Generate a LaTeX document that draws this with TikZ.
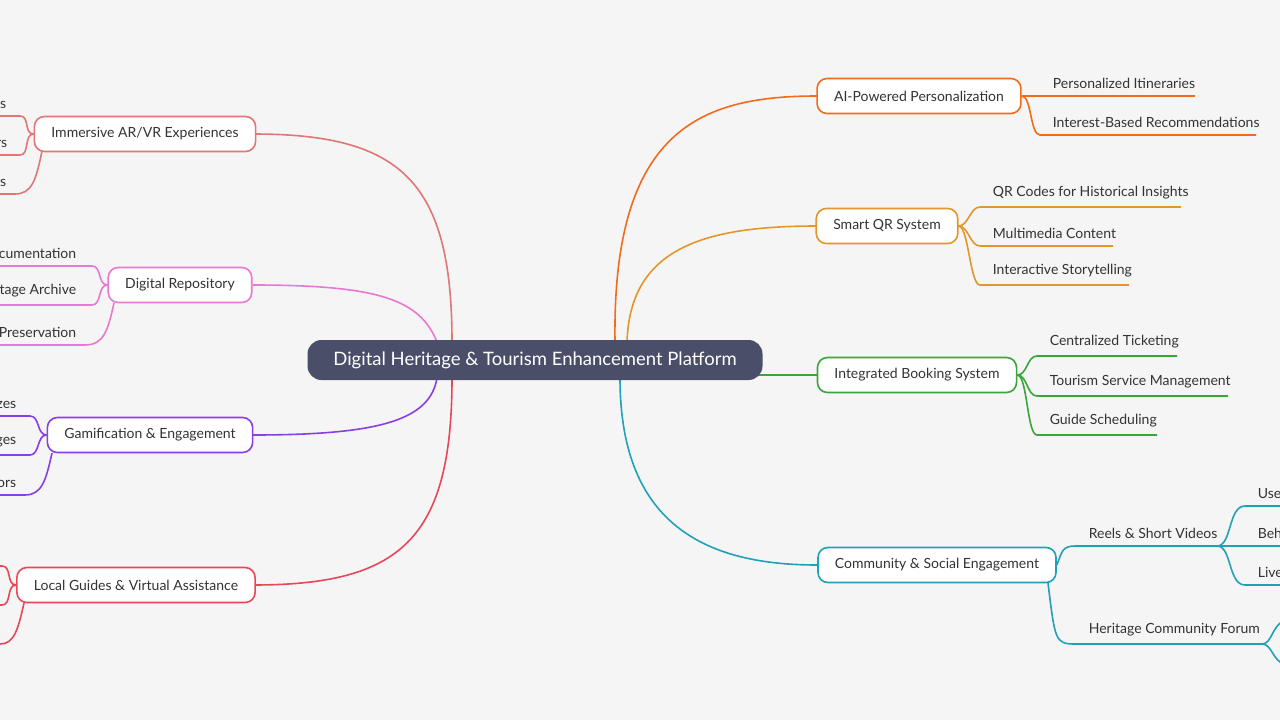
\documentclass[tikz,border=0pt]{standalone}
\usepackage{fontspec}
\setmainfont{Lato}
\begin{document}
\begin{tikzpicture}[x=1pt,y=-1pt,line width=1.6pt,
  topic/.style={draw,fill=white,rounded corners=10pt,minimum height=35pt,inner xsep=17pt,font=\fontsize{14}{16}\selectfont,text=black!80},
  lbl/.style={font=\fontsize{14}{16}\selectfont,text=black!80,inner sep=0pt}]
\useasboundingbox (0,0) rectangle (1280,720);
\fill[black!4] (0,0) rectangle (1280,720);
\clip (0,0) rectangle (1280,720);
\definecolor{cOr}{HTML}{F26B1D}\definecolor{cQr}{HTML}{E3972B}
\definecolor{cGr}{HTML}{3AA53A}\definecolor{cTe}{HTML}{22A0B8}
\definecolor{cIm}{HTML}{E07676}\definecolor{cPk}{HTML}{E878D2}
\definecolor{cPu}{HTML}{8A3EE8}\definecolor{cRd}{HTML}{E8475A}

% main connectors
\draw[cOr] (615,342) .. controls (612,130) and (700,96) .. (817,96);
\draw[cQr] (627,342) .. controls (630,250) and (700,226) .. (817,226);
\draw[cGr] (740,375) -- (817,375);
\draw[cTe] (620,378) .. controls (620,520) and (700,565) .. (817,565);
\draw[cIm] (253,134) .. controls (400,134) and (452,180) .. (452,342);
\draw[cPk] (253,285) .. controls (380,285) and (420,300) .. (437,342);
\draw[cPu] (253,435) .. controls (380,435) and (430,420) .. (437,378);
\draw[cRd] (253,585) .. controls (400,585) and (452,540) .. (452,378);

\node[fill={rgb,255:red,74;green,78;blue,105},rounded corners=14pt,minimum width=455pt,minimum height=40pt,text=white,font=\fontsize{18.5}{20}\selectfont] (c) at (535,360) {Digital Heritage \& Tourism Enhancement Platform};

% right topics
\node[topic,draw=cOr] (ai) at (919,96) {AI-Powered Personalization};
\node[topic,draw=cQr] (qr) at (887,226) {Smart QR System};
\node[topic,draw=cGr] (bk) at (917,375) {Integrated Booking System};
\node[topic,draw=cTe] (cm) at (937,565) {Community \& Social Engagement};
% left topics
\node[topic,draw=cIm] (im) at (145,134) {Immersive AR/VR Experiences};
\node[topic,draw=cPk] (dr) at (180,285) {Digital Repository};
\node[topic,draw=cPu] (gm) at (150,435) {Gamification \& Engagement};
\node[topic,draw=cRd] (lg) at (136,585) {Local Guides \& Virtual Assistance};

% right children
\def\rc#1#2#3#4#5#6{\draw[#1] (#2) .. controls +(10,0) and +(-10,0) .. (#3,#4) -- (#5,#4);
  \node[lbl,anchor=south west] at (#3+12,#4-7) {#6};}
\rc{cOr}{ai.east}{1040}{96}{1195}{Personalized Itineraries}
\rc{cOr}{ai.east}{1040}{135}{1256}{Interest-Based Recommendations}
\rc{cQr}{qr.east}{980}{207}{1181}{QR Codes for Historical Insights}
\rc{cQr}{qr.east}{980}{246}{1113}{Multimedia Content}
\rc{cQr}{qr.east}{980}{285}{1129}{Interactive Storytelling}
\rc{cGr}{bk.east}{1037}{356}{1177}{Centralized Ticketing}
\rc{cGr}{bk.east}{1037}{396}{1228}{Tourism Service Management}
\rc{cGr}{bk.east}{1037}{435}{1157}{Guide Scheduling}
\draw[cTe] (cm.east) .. controls (1062,552) and (1062,546) .. (1075,546) -- (1217,546);
\node[lbl,anchor=south west] at (1088,539) {Reels \& Short Videos};
\draw[cTe] (1048,583) .. controls (1055,640) and (1055,644) .. (1075,644) -- (1262,644);
\node[lbl,anchor=south west] at (1088,637) {Heritage Community Forum};
\draw[cTe] (1217,546) .. controls (1232,546) and (1228,506) .. (1245,506) -- (1280,506);
\draw[cTe] (1217,546) -- (1280,546);
\draw[cTe] (1217,546) .. controls (1232,546) and (1228,585) .. (1245,585) -- (1280,585);
\node[lbl,anchor=south west] at (1257,499) {User-Generated Reels};
\node[lbl,anchor=south west] at (1257,539) {Behind the Scenes};
\node[lbl,anchor=south west] at (1257,578) {Live Events};
\draw[cTe] (1262,644) .. controls (1272,644) and (1272,625) .. (1285,620);
\draw[cTe] (1262,644) .. controls (1272,644) and (1272,660) .. (1285,665);

% left children
\def\lc#1#2#3#4#5#6{\draw[#1] (#2) .. controls +(-10,0) and +(10,0) .. (#3,#4) -- (-100,#4);
  \node[lbl,anchor=south east] at (#5,#4-7) {#6};}
\lc{cIm}{im.west}{20}{116}{7}{s}
\lc{cIm}{im.west}{20}{155}{8}{rs}
\draw[cIm] (42,151) .. controls (36,180) and (32,194) .. (15,194) -- (-100,194);
\node[lbl,anchor=south east] at (7,187) {s};
\lc{cPk}{dr.west}{92}{266}{77}{Documentation}
\lc{cPk}{dr.west}{92}{305}{77}{Heritage Archive}
\draw[cPk] (114,303) .. controls (108,330) and (104,345) .. (85,345) -- (-100,345);
\node[lbl,anchor=south east] at (77,338) {Preservation};
\lc{cPu}{gm.west}{30}{416}{17}{zes}
\lc{cPu}{gm.west}{30}{455}{17}{ges}
\draw[cPu] (52,453) .. controls (46,480) and (42,495) .. (25,495) -- (-100,495);
\node[lbl,anchor=south east] at (17,488) {ors};
\draw[cRd] (lg.west) .. controls +(-10,0) and +(10,0) .. (2,566) -- (-100,566);
\draw[cRd] (lg.west) .. controls +(-10,0) and +(10,0) .. (2,605) -- (-100,605);
\draw[cRd] (24,603) .. controls (18,630) and (14,644) .. (0,644);
\end{tikzpicture}
\end{document}
